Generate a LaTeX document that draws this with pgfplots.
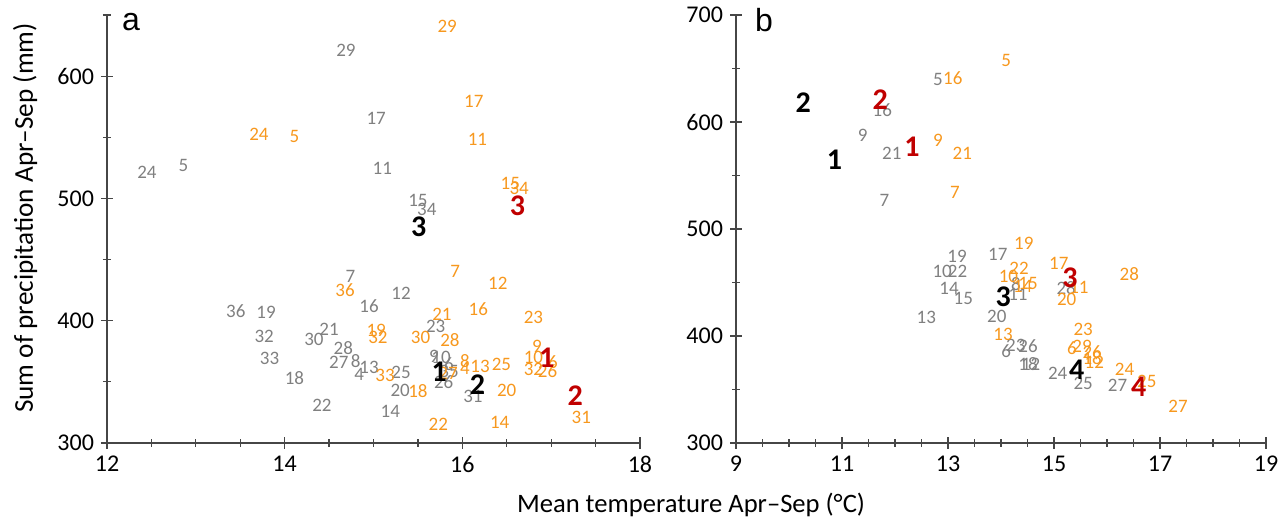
\documentclass[border=0pt]{standalone}
\usepackage{pgfplots}
\pgfplotsset{compat=1.18}
\usepackage{fontspec}
\setmainfont{Carlito}
\newfontfamily\arialf{Liberation Sans}
\definecolor{lgrey}{RGB}{128,128,128}
\definecolor{lorange}{RGB}{247,152,30}
\definecolor{lred}{RGB}{192,0,0}
\definecolor{axgrey}{RGB}{70,70,70}

\pgfplotsset{
  lbl/.style={only marks, mark=*, mark size=0pt, mark options={draw=none,fill=none},
    nodes near coords, point meta=explicit symbolic,
    every node near coord/.append style={anchor=center, inner sep=0pt, font=\fontsize{9.5}{10}\selectfont, text=#1}},
  blbl/.style={only marks, mark=*, mark size=0pt, mark options={draw=none,fill=none},
    nodes near coords, point meta=explicit symbolic,
    every node near coord/.append style={anchor=center, inner sep=0pt, font=\fontsize{15}{16}\selectfont\bfseries, text=#1}},
  panel/.style={
    scale only axis, clip=false,
    axis lines=left, axis line style={-, axgrey, line width=0.8pt},
    tick style={axgrey, line width=0.6pt},
    tick align=center, major tick length=6pt, minor tick length=4pt,
    tick label style={font=\fontsize{12}{13}\selectfont},
    /pgf/number format/assume math mode=true,
    /pgf/number format/1000 sep={},
    height=214pt,
  }
}

\begin{document}
\begin{tikzpicture}
\path (0,0) rectangle (640pt,261pt);

% ---------------- panel a ----------------
\begin{axis}[panel, at={(53.5pt,39.5pt)}, anchor=south west, width=266.5pt,
  xmin=12, xmax=18, ymin=300, ymax=650,
  xtick={12,14,16,18}, minor xtick={12.5,13,13.5,14.5,15,15.5,16.5,17,17.5},
  ytick={300,400,500,600}, minor ytick={350,450,550,650}]
\addplot[lbl=lgrey] table[meta=l] {
x y l
12.45 521.3 24
12.86 527.0 5
14.69 621.3 29
15.03 565.6 17
15.10 524.6 11
15.50 498.4 15
15.60 491.0 34
14.74 436.1 7
13.45 407.4 36
13.79 406.6 19
14.95 411.5 16
15.31 422.1 12
14.50 392.6 21
14.33 384.4 30
13.77 386.9 32
14.66 377.9 28
13.83 368.9 33
14.61 365.6 27
14.80 367.2 8
14.95 361.5 13
14.84 355.7 4
14.11 353.3 18
14.42 331.1 22
15.31 357.4 25
15.30 343.4 20
15.19 326.2 14
15.70 395.1 23
15.68 370.5 9
15.76 369.7 10
15.85 364.8 6
15.85 358.2 35
15.79 350.0 26
16.12 337.7 31
};
\addplot[lbl=lorange] table[meta=l] {
x y l
15.83 641.0 29
16.13 579.5 17
16.17 548.4 11
16.54 512.3 15
16.64 508.2 34
13.71 552.5 24
14.11 550.8 5
15.92 440.2 7
14.68 424.6 36
16.40 430.3 12
16.18 409.8 16
15.77 404.9 21
15.03 391.8 19
15.05 386.1 32
15.53 386.1 30
15.86 384.4 28
16.80 402.5 23
16.84 378.7 9
16.80 369.7 10
17.02 366.4 6
16.80 359.8 32
16.96 359.0 26
16.44 363.9 25
16.20 362.3 13
16.03 367.2 8
16.03 360.7 4
15.84 356.6 27
16.50 342.6 20
15.50 342.6 18
15.13 354.9 33
15.73 315.6 22
16.42 317.2 14
17.34 321.3 31
};
\addplot[blbl=black] table[meta=l] {
x y l
15.51 477.0 3
15.74 358.2 1
16.17 347.5 2
};
\addplot[blbl=lred] table[meta=l] {
x y l
16.62 494.3 3
16.95 369.7 1
17.27 338.5 2
};
\end{axis}

% ---------------- panel b ----------------
\begin{axis}[panel, at={(368pt,39.5pt)}, anchor=south west, width=265pt,
  xmin=9, xmax=19, ymin=300, ymax=700,
  xtick={9,11,13,15,17,19}, minor x tick num=3,
  ytick={300,400,500,600,700}, minor y tick num=1]
\addplot[lbl=lgrey] table[meta=l] {
x y l
12.81 640.2 5
11.76 611.2 16
11.39 587.9 9
11.94 571.0 21
11.80 527.1 7
13.17 474.8 19
13.94 476.6 17
12.89 460.7 10
13.18 460.7 22
13.02 444.9 14
13.29 435.5 15
14.28 448.6 8
14.32 439.3 11
12.59 417.8 13
13.92 418.7 20
15.23 444.9 28
14.28 391.6 23
14.51 390.7 26
14.10 386.0 6
14.51 373.8 18
14.56 373.8 12
15.07 365.4 24
15.55 356.1 25
16.20 354.2 27
};
\addplot[lbl=lorange] table[meta=l] {
x y l
14.10 657.9 5
13.09 641.1 16
12.81 583.2 9
13.27 571.0 21
13.13 534.6 7
14.43 486.9 19
14.34 463.6 22
14.14 456.1 10
14.51 449.5 15
14.41 446.7 14
15.09 468.2 17
15.47 445.8 11
15.24 434.6 20
16.42 458.0 28
14.04 401.9 13
15.55 406.5 23
15.34 388.8 6
15.53 390.7 29
15.72 385.0 26
15.72 379.4 18
15.76 375.7 12
16.33 369.2 24
16.75 357.9 25
17.34 334.6 27
};
\addplot[blbl=black] table[meta=l] {
x y l
10.27 617.8 2
10.86 564.5 1
14.04 436.4 3
15.43 368.2 4
};
\addplot[blbl=lred] table[meta=l] {
x y l
11.72 620.6 2
12.32 576.6 1
15.30 454.2 3
16.60 352.3 4
};
\end{axis}

% panel letters and axis titles
\node[font=\arialf\fontsize{16}{16}\selectfont] at (65.5pt,250pt) {a};
\node[font=\arialf\fontsize{16}{16}\selectfont] at (382pt,251pt) {b};
\node[font=\fontsize{13.3}{14}\selectfont] at (345.5pt,8.5pt) {Mean temperature Apr–Sep (°C)};
\node[rotate=90, font=\fontsize{13.6}{15}\selectfont] at (12.5pt,152pt) {Sum of precipitation Apr–Sep (mm)};

\pgfresetboundingbox
\path (0,0) rectangle (640pt,261pt);
\end{tikzpicture}
\end{document}
